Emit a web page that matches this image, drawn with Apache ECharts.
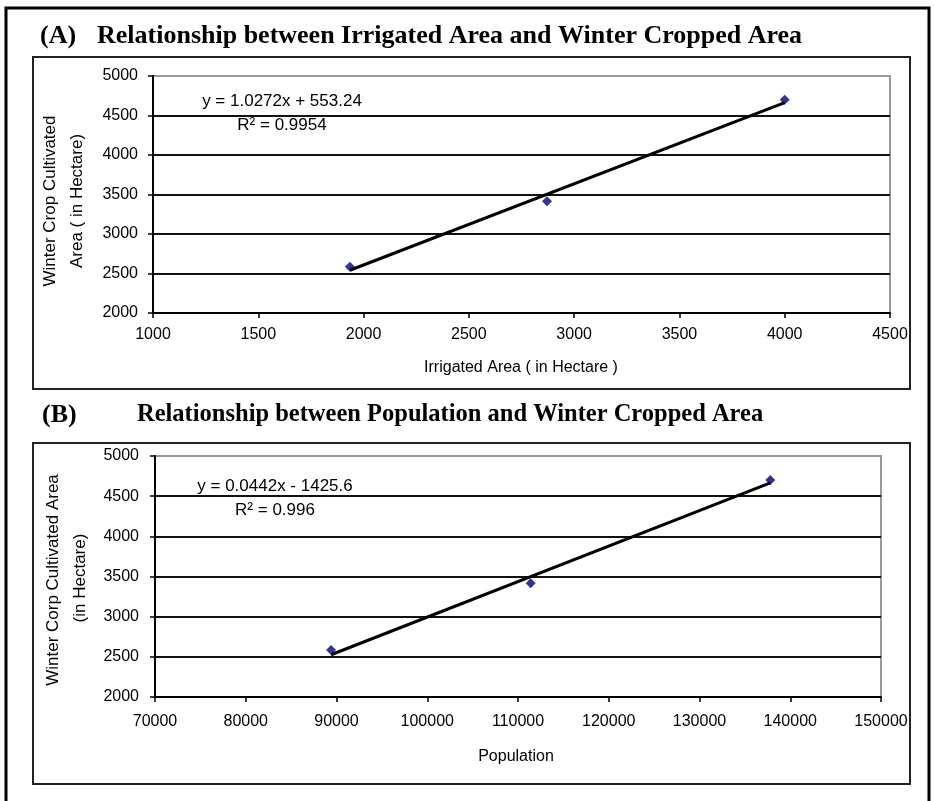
<!DOCTYPE html>
<html>
<head>
<meta charset="utf-8">
<script src="https://cdn.jsdelivr.net/npm/echarts@6/dist/echarts.min.js"></script>
<style>
html,body{margin:0;padding:0;background:#fff;}
#chart{width:934px;height:801px;}
</style>
</head>
<body>
<div id="chart"></div>
<script>
// ---- data ----
const irrigatedArea = [1935, 2871, 4000];
const population = [89400, 111400, 137800];
const winterCropArea = [2585, 3415, 4700];

const xTicksA = [1000, 1500, 2000, 2500, 3000, 3500, 4000, 4500];
const xTicksB = [70000, 80000, 90000, 100000, 110000, 120000, 130000, 140000, 150000];
const yTicks = [2000, 2500, 3000, 3500, 4000, 4500, 5000];

const trendA = [1.0272, 553.24];   // slope, intercept
const trendB = [0.0442, -1425.6];

const titleA = 'Relationship between Irrigated Area and Winter Cropped Area';
const titleB = 'Relationship between Population and Winter Cropped Area';
const eqA = ['y = 1.0272x + 553.24', 'R\u00B2 = 0.9954'];
const eqB = ['y = 0.0442x - 1425.6', 'R\u00B2 = 0.996'];
const xNameA = 'Irrigated Area ( in Hectare )';
const xNameB = 'Population';
const yNameA = ['Winter Crop Cultivated', 'Area ( in Hectare)'];
const yNameB = ['Winter Corp Cultivated Area', '(in Hectare)'];

// ---- helpers ----
function pts(xs, ys) { return xs.map((x, i) => [x, ys[i]]); }
function trend(xs, c) {
  const lo = Math.min(...xs), hi = Math.max(...xs);
  return [[lo, c[0] * lo + c[1]], [hi, c[0] * hi + c[1]]];
}
const sans = 'Arial, "Liberation Sans", sans-serif';
const serif = '"Times New Roman", "Liberation Serif", serif';

function xAxisOf(ticks, gi, margin) {
  return {
    type: 'value', gridIndex: gi,
    min: ticks[0], max: ticks[ticks.length - 1], interval: ticks[1] - ticks[0],
    axisLine: { show: true, onZero: false, lineStyle: { color: '#000', width: 2 } },
    axisTick: { show: true, inside: false, length: 5, lineStyle: { color: '#000', width: 1.5 } },
    axisLabel: { color: '#000', fontFamily: sans, fontSize: 16, margin: margin, formatter: v => String(v) },
    splitLine: { show: false }
  };
}
function yAxisOf(gi, margin) {
  return {
    type: 'value', gridIndex: gi,
    min: yTicks[0], max: yTicks[yTicks.length - 1], interval: yTicks[1] - yTicks[0],
    axisLine: { show: true, onZero: false, lineStyle: { color: '#000', width: 2 } },
    axisTick: { show: true, inside: false, length: 5, lineStyle: { color: '#000', width: 1.5 } },
    axisLabel: { color: '#000', fontFamily: sans, fontSize: 16, margin: margin, formatter: v => String(v) },
    splitLine: { show: true, lineStyle: { color: ['#111', '#111', '#111', '#111', '#111', '#111', '#999'], width: 2 } }
  };
}

const chart = echarts.init(document.getElementById('chart'), null, { renderer: 'canvas' });
const option = {
  animation: false,
  backgroundColor: '#fff',
  grid: [
    { left: 153, top: 76, right: 44, bottom: 488, show: true, borderColor: '#999', borderWidth: 2, backgroundColor: 'transparent' },
    { left: 155, top: 456, right: 53, bottom: 104, show: true, borderColor: '#999', borderWidth: 2, backgroundColor: 'transparent' }
  ],
  xAxis: [xAxisOf(xTicksA, 0, 14), xAxisOf(xTicksB, 1, 17)],
  yAxis: [yAxisOf(0, 15), yAxisOf(1, 16)],
  series: [
    { type: 'scatter', xAxisIndex: 0, yAxisIndex: 0, data: pts(irrigatedArea, winterCropArea),
      symbol: 'diamond', symbolSize: 10, itemStyle: { color: '#000080' }, z: 3 },
    { type: 'line', xAxisIndex: 0, yAxisIndex: 0, data: trend(irrigatedArea, trendA),
      showSymbol: false, symbol: 'none', lineStyle: { color: '#000', width: 3 }, z: 4 },
    { type: 'scatter', xAxisIndex: 1, yAxisIndex: 1, data: pts(population, winterCropArea),
      symbol: 'diamond', symbolSize: 10, itemStyle: { color: '#000080' }, z: 3 },
    { type: 'line', xAxisIndex: 1, yAxisIndex: 1, data: trend(population, trendB),
      showSymbol: false, symbol: 'none', lineStyle: { color: '#000', width: 3 }, z: 4 }
  ],
  graphic: [
    // frames
    { type: 'rect', shape: { x: 6, y: 8, width: 923, height: 820 }, style: { fill: 'none', stroke: '#000', lineWidth: 3 }, z: 10 },
    { type: 'rect', shape: { x: 33, y: 57, width: 877, height: 332 }, style: { fill: 'none', stroke: '#222', lineWidth: 2 }, z: 10 },
    { type: 'rect', shape: { x: 33, y: 443, width: 877, height: 341 }, style: { fill: 'none', stroke: '#222', lineWidth: 2 }, z: 10 },
    // titles
    { type: 'text', x: 40, y: 36, style: { text: '(A)', font: 'bold 26px ' + serif, fill: '#000', textVerticalAlign: 'middle' }, z: 10 },
    { type: 'text', x: 97, y: 36, style: { text: titleA, font: 'bold 26px ' + serif, fill: '#000', textVerticalAlign: 'middle' }, z: 10 },
    { type: 'text', x: 42, y: 415, style: { text: '(B)', font: 'bold 26px ' + serif, fill: '#000', textVerticalAlign: 'middle' }, z: 10 },
    { type: 'text', x: 137, y: 415, style: { text: titleB, font: 'bold 24.5px ' + serif, fill: '#000', textVerticalAlign: 'middle' }, z: 10 },
    // equations
    { type: 'text', x: 282, y: 101, style: { text: eqA[0], font: '17px ' + sans, fill: '#000', textAlign: 'center', textVerticalAlign: 'middle' }, z: 10 },
    { type: 'text', x: 282, y: 125, style: { text: eqA[1], font: '17px ' + sans, fill: '#000', textAlign: 'center', textVerticalAlign: 'middle' }, z: 10 },
    { type: 'text', x: 275, y: 486, style: { text: eqB[0], font: '17px ' + sans, fill: '#000', textAlign: 'center', textVerticalAlign: 'middle' }, z: 10 },
    { type: 'text', x: 275, y: 510, style: { text: eqB[1], font: '17px ' + sans, fill: '#000', textAlign: 'center', textVerticalAlign: 'middle' }, z: 10 },
    // x axis names
    { type: 'text', x: 521, y: 368, style: { text: xNameA, font: '16px ' + sans, fill: '#000', textAlign: 'center', textVerticalAlign: 'middle' }, z: 10 },
    { type: 'text', x: 516, y: 757, style: { text: xNameB, font: '16px ' + sans, fill: '#000', textAlign: 'center', textVerticalAlign: 'middle' }, z: 10 },
    // y axis names (rotated)
    { type: 'text', x: 50, y: 201, rotation: Math.PI / 2, style: { text: yNameA[0], font: '17px ' + sans, fill: '#000', textAlign: 'center', textVerticalAlign: 'middle' }, z: 10 },
    { type: 'text', x: 77, y: 201, rotation: Math.PI / 2, style: { text: yNameA[1], font: '17px ' + sans, fill: '#000', textAlign: 'center', textVerticalAlign: 'middle' }, z: 10 },
    { type: 'text', x: 53, y: 580, rotation: Math.PI / 2, style: { text: yNameB[0], font: '17px ' + sans, fill: '#000', textAlign: 'center', textVerticalAlign: 'middle' }, z: 10 },
    { type: 'text', x: 80, y: 578, rotation: Math.PI / 2, style: { text: yNameB[1], font: '17px ' + sans, fill: '#000', textAlign: 'center', textVerticalAlign: 'middle' }, z: 10 }
  ]
};
chart.setOption(option);
</script>
</body>
</html>
